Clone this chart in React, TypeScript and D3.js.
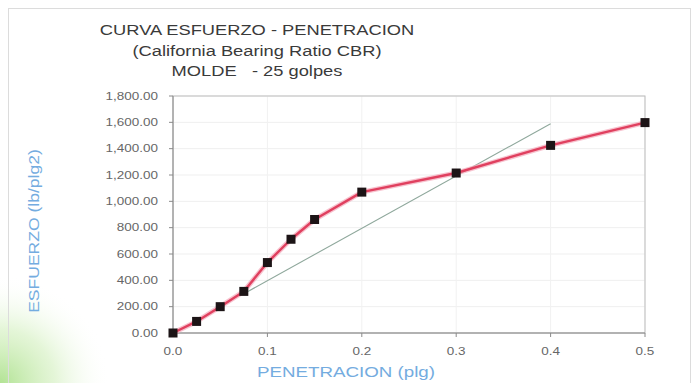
import React from "react";
import * as d3 from "d3";

// ---- data ----
const penetracion = [0, 0.025, 0.05, 0.075, 0.1, 0.125, 0.15, 0.2, 0.3, 0.4, 0.5];
const esfuerzo = [0, 88, 200, 316, 535, 712, 862, 1070, 1215, 1425, 1598];
const tangentX = [0.075, 0.4];
const tangentY = [298, 1590];
const yTicks = [0, 200, 400, 600, 800, 1000, 1200, 1400, 1600, 1800];
const xTicks = [0, 0.1, 0.2, 0.3, 0.4, 0.5];
const titleLines = [
  "CURVA ESFUERZO - PENETRACION",
  "(California Bearing Ratio CBR)",
  "MOLDE   - 25 golpes",
];
const xLabel = "PENETRACION (plg)";
const yLabel = "ESFUERZO (lb/plg2)";

const W = 699;
const H = 383;
const plot = { left: 173, right: 645, top: 96, bottom: 333 };
const FONT = "'Liberation Sans', Arial, sans-serif";

export default function App() {
  const x = d3.scaleLinear().domain([0, 0.5]).range([plot.left, plot.right]);
  const y = d3.scaleLinear().domain([0, 1800]).range([plot.bottom, plot.top]);
  const pts = penetracion.map((p, i) => [p, esfuerzo[i]] as [number, number]);
  const line = d3
    .line<[number, number]>()
    .x((d) => x(d[0]))
    .y((d) => y(d[1]));
  const tang = tangentX.map((p, i) => [p, tangentY[i]] as [number, number]);
  const fmtY = d3.format(",.2f");
  const fmtX = d3.format(".1f");

  return (
    <svg
      width={W}
      height={H}
      style={{ position: "absolute", left: 0, top: 0, background: "#fff" }}
      fontFamily={FONT}
    >
      <defs>
        <radialGradient id="glow" cx="0" cy="1" r="1">
          <stop offset="0" stopColor="#9fdc7a" stopOpacity="0.8" />
          <stop offset="0.5" stopColor="#c9ecb0" stopOpacity="0.5" />
          <stop offset="1" stopColor="#ffffff" stopOpacity="0" />
        </radialGradient>
      </defs>
      <rect x={0} y={0} width={W} height={H} fill="#fff" />
      <rect x={0} y={275} width={110} height={108} fill="url(#glow)" />
      <rect x={8.5} y={8.5} width={682} height={380} fill="none" stroke="#dcdcdc" />

      {/* title */}
      {titleLines.map((t, i) => (
        <text
          key={i}
          transform={`translate(257, ${35 + i * 20.5}) scale(1.22,1)`}
          textAnchor="middle"
          fontSize={15}
          fill="#3a3a3a"
          style={{ whiteSpace: "pre" }}
        >
          {t}
        </text>
      ))}

      {/* grid */}
      {yTicks.map((v) => (
        <line
          key={"gy" + v}
          x1={plot.left}
          x2={plot.right}
          y1={y(v)}
          y2={y(v)}
          stroke="#efefef"
        />
      ))}
      {xTicks.map((v) => (
        <line
          key={"gx" + v}
          x1={x(v)}
          x2={x(v)}
          y1={plot.top}
          y2={plot.bottom}
          stroke="#f1f1f1"
        />
      ))}

      {/* plot border */}
      <rect
        x={plot.left}
        y={plot.top}
        width={plot.right - plot.left}
        height={plot.bottom - plot.top}
        fill="none"
        stroke="#bdbdbd"
      />
      <line x1={plot.left} x2={plot.left} y1={plot.top} y2={plot.bottom} stroke="#8a8a8a" />
      <line x1={plot.left} x2={plot.right} y1={plot.bottom} y2={plot.bottom} stroke="#8a8a8a" />

      {/* y ticks */}
      {yTicks.map((v) => (
        <g key={"ty" + v}>
          <line x1={plot.left - 4} x2={plot.left} y1={y(v)} y2={y(v)} stroke="#8a8a8a" />
          <text
            transform={`translate(158, ${y(v) + 3.5}) scale(1.35,1)`}
            textAnchor="end"
            fontSize={10}
            fill="#666"
          >
            {fmtY(v)}
          </text>
        </g>
      ))}

      {/* x ticks */}
      {xTicks.map((v) => (
        <g key={"tx" + v}>
          <line x1={x(v)} x2={x(v)} y1={plot.bottom} y2={plot.bottom + 4} stroke="#8a8a8a" />
          <text
            transform={`translate(${x(v)}, 355) scale(1.35,1)`}
            textAnchor="middle"
            fontSize={10}
            fill="#666"
          >
            {fmtX(v)}
          </text>
        </g>
      ))}

      {/* tangent line */}
      <path d={line(tang) || ""} fill="none" stroke="#8fa89c" strokeWidth={1.1} />

      {/* curve */}
      <path
        d={line(pts) || ""}
        fill="none"
        stroke="#f3a9bb"
        strokeWidth={5}
        strokeLinejoin="round"
        opacity={0.7}
      />
      <path
        d={line(pts) || ""}
        fill="none"
        stroke="#e0405f"
        strokeWidth={2.4}
        strokeLinejoin="round"
      />
      {pts.map((d, i) => (
        <rect
          key={"m" + i}
          x={x(d[0]) - 4.5}
          y={y(d[1]) - 4.5}
          width={9}
          height={9}
          fill="#1c1416"
        />
      ))}

      {/* axis labels */}
      <text
        transform={`translate(346, 377) scale(1.25,1)`}
        textAnchor="middle"
        fontSize={15}
        fill="#74ace0"
      >
        {xLabel}
      </text>
      <text
        transform={`translate(39, 231) rotate(-90) scale(1.17,1)`}
        textAnchor="middle"
        fontSize={15}
        fill="#74ace0"
      >
        {yLabel}
      </text>
    </svg>
  );
}
